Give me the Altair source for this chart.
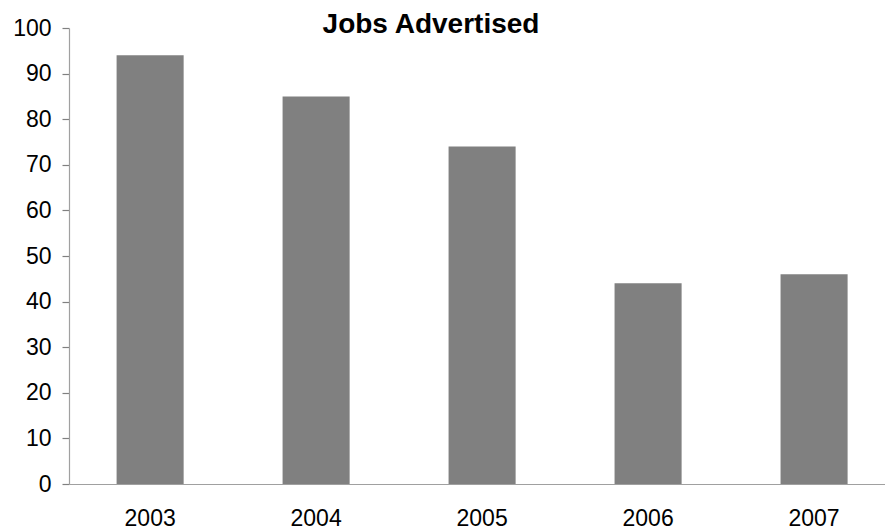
import altair as alt
import pandas as pd

years = ["2003", "2004", "2005", "2006", "2007"]
jobs = [94, 85, 74, 44, 46]
y_ticks = [0, 10, 20, 30, 40, 50, 60, 70, 80, 90, 100]

df = pd.DataFrame({"year": years, "jobs": jobs})

FONT = "Liberation Sans"

chart = alt.Chart(df).mark_bar(color="#808080").encode(
    x=alt.X(
        "year:N",
        sort=years,
        title=None,
        scale=alt.Scale(paddingInner=0.596, paddingOuter=0.256, align=0.56),
        axis=alt.Axis(
            labelAngle=0,
            ticks=False,
            labelPadding=23,
            labelFontSize=23,
            labelFont=FONT,
            labelColor="#000000",
            domainColor="#a0a0a0",
            domainWidth=1.2,
            grid=False,
        ),
    ),
    y=alt.Y(
        "jobs:Q",
        title=None,
        scale=alt.Scale(domain=[0, 100], nice=False),
        axis=alt.Axis(
            values=y_ticks,
            tickSize=7,
            tickColor="#808080",
            tickWidth=1.2,
            labelPadding=11,
            labelFontSize=23,
            labelFont=FONT,
            labelColor="#000000",
            domainColor="#a0a0a0",
            domainWidth=1.2,
            grid=False,
        ),
    ),
).properties(
    width=816,
    height=456,
    background="#ffffff",
    title=alt.Title(
        "Jobs Advertised",
        fontSize=28,
        fontWeight="bold",
        font=FONT,
        color="#000000",
        anchor="middle",
        baseline="alphabetic",
        offset=0,
        dx=-46,
        dy=44,
    ),
    autosize=alt.AutoSizeParams(type="none"),
    padding={"left": 69, "top": 28, "right": 0, "bottom": 47},
).configure_view(stroke=None)

chart.save("out.html", embed_options={"renderer": "svg", "actions": False})
